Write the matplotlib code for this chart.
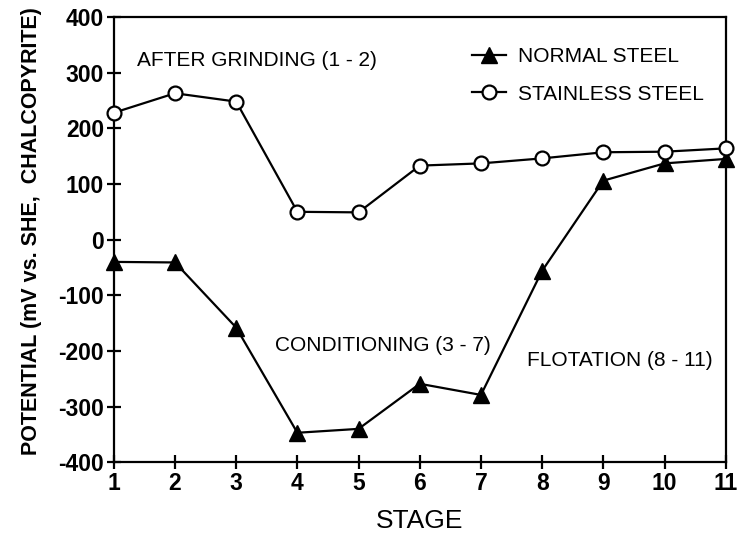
import numpy as np
import matplotlib
matplotlib.use('Agg')
import matplotlib.pyplot as plt

plt.rcParams['font.family'] = ['Liberation Sans', 'DejaVu Sans']
plt.rcParams['axes.unicode_minus'] = False

# data
stage = [1, 2, 3, 4, 5, 6, 7, 8, 9, 10, 11]
normal_steel = [-40, -41, -158, -347, -340, -259, -279, -56, 106, 137, 145]
stainless_steel = [228, 263, 248, 50, 49, 133, 137, 146, 157, 158, 164]
x_ticks = list(range(1, 12))
y_ticks = [-400, -300, -200, -100, 0, 100, 200, 300, 400]

fig = plt.figure(figsize=(7.39, 5.49), dpi=100)
ax = fig.add_axes([0.154, 0.158, 0.828, 0.811])

ax.plot(stage, normal_steel, color='black', lw=1.6, marker='^', ms=11,
        mfc='black', mec='black', label='NORMAL STEEL', clip_on=False, zorder=3)
ax.plot(stage, stainless_steel, color='black', lw=1.6, marker='o', ms=10,
        mfc='white', mec='black', mew=1.6, label='STAINLESS STEEL', clip_on=False, zorder=3)

ax.set_xlim(1, 11)
ax.set_ylim(-400, 400)
ax.set_xticks(x_ticks)
ax.set_yticks(y_ticks)
ax.tick_params(direction='inout', length=10, width=1.6, labelsize=16.5, pad=2)
for lab in ax.get_xticklabels() + ax.get_yticklabels():
    lab.set_fontweight('bold')
for sp in ax.spines.values():
    sp.set_linewidth(1.6)

ax.set_xlabel('STAGE', fontsize=19, labelpad=10)
ax.set_ylabel('POTENTIAL (mV vs. SHE,  CHALCOPYRITE)', fontsize=15.5, fontweight='bold', labelpad=10)
ax.yaxis.set_label_coords(-0.117, 0.52)

ax.text(1.38, 322, 'AFTER GRINDING (1 - 2)', fontsize=15, va='center')
ax.text(3.63, -191, 'CONDITIONING (3 - 7)', fontsize=15, va='center')
ax.text(7.76, -218, 'FLOTATION (8 - 11)', fontsize=15, va='center')

ax.legend(loc='upper right', bbox_to_anchor=(0.995, 0.975), frameon=False, fontsize=15,
          handlelength=1.6, handletextpad=0.6, labelspacing=0.9)

fig.savefig('out.png', dpi=100)
